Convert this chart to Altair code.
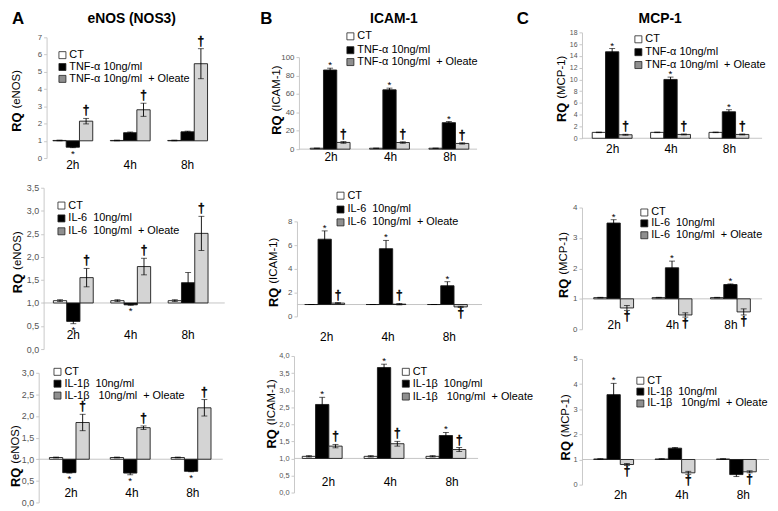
import altair as alt
import pandas as pd

FONT = "Liberation Sans"
TIMES = ["2h", "4h", "8h"]
SERIES = ["CT", "TRT", "OLE"]
BAR_COLORS = ["#ffffff", "#000000", "#d4d4d4"]
LEGEND_COLORS = ["#ffffff", "#000000", "#8f8f8f"]

letters = ["A", "B", "C"]
gene_titles = ["eNOS (NOS3)", "ICAM-1", "MCP-1"]
gene_ylabels = ["(eNOS)", "(ICAM-1)", "(MCP-1)"]
legend_tnf = ["CT", "TNF-α 10ng/ml", "TNF-α 10ng/ml  + Oleate"]
legend_il6 = ["CT", "IL-6  10ng/ml", "IL-6  10ng/ml  + Oleate"]
legend_il1 = ["CT", "IL-1β  10ng/ml", "IL-1β   10ng/ml  + Oleate"]
daggers = ["†", "†", "†"]

# ---- eNOS / TNF-a
enos_tnf_ct = [1.02, 1.02, 1.02]
enos_tnf_ct_err = [0.02, 0.02, 0.02]
enos_tnf_trt = [0.63, 1.47, 1.52]
enos_tnf_trt_err = [0.03, 0.04, 0.04]
enos_tnf_ole = [2.14, 2.80, 5.47]
enos_tnf_ole_err = [0.16, 0.38, 0.87]
enos_tnf_stars = ["*", "", ""]
enos_tnf_ticks = [0, 1, 2, 3, 4, 5, 6, 7]

# ---- ICAM-1 / TNF-a
icam_tnf_ct = [1.0, 1.0, 1.0]
icam_tnf_ct_err = [0.1, 0.1, 0.1]
icam_tnf_trt = [86.0, 64.5, 28.8]
icam_tnf_trt_err = [2.0, 1.8, 1.2]
icam_tnf_ole = [7.3, 7.2, 6.2]
icam_tnf_ole_err = [0.9, 0.8, 0.7]
icam_tnf_stars = ["*", "*", "*"]
icam_tnf_ticks = [0, 20, 40, 60, 80, 100]

# ---- MCP-1 / TNF-a
mcp_tnf_ct = [1.0, 1.0, 1.0]
mcp_tnf_ct_err = [0.05, 0.05, 0.05]
mcp_tnf_trt = [14.7, 10.0, 4.5]
mcp_tnf_trt_err = [0.55, 0.4, 0.35]
mcp_tnf_ole = [0.6, 0.65, 0.65]
mcp_tnf_ole_err = [0.08, 0.08, 0.08]
mcp_tnf_stars = ["*", "*", "*"]
mcp_tnf_ticks = [0, 2, 4, 6, 8, 10, 12, 14, 16, 18]

# ---- eNOS / IL-6
enos_il6_ct = [1.05, 1.05, 1.05]
enos_il6_ct_err = [0.02, 0.02, 0.02]
enos_il6_trt = [0.60, 0.96, 1.44]
enos_il6_trt_err = [0.05, 0.01, 0.22]
enos_il6_ole = [1.55, 1.79, 2.51]
enos_il6_ole_err = [0.20, 0.18, 0.37]
enos_il6_stars = ["*", "*", ""]
enos_il6_ticks = [0, 0.5, 1, 1.5, 2, 2.5, 3, 3.5]

# ---- ICAM-1 / IL-6
icam_il6_ct = [1.0, 1.0, 1.0]
icam_il6_ct_err = [0.0, 0.0, 0.0]
icam_il6_trt = [6.5, 5.7, 2.58]
icam_il6_trt_err = [0.7, 0.7, 0.34]
icam_il6_ole = [1.12, 1.03, 0.80]
icam_il6_ole_err = [0.04, 0.06, 0.05]
icam_il6_stars = ["*", "*", "*"]
icam_il6_ticks = [0, 2, 4, 6, 8]

# ---- MCP-1 / IL-6
mcp_il6_ct = [1.04, 1.04, 1.04]
mcp_il6_ct_err = [0.01, 0.01, 0.01]
mcp_il6_trt = [3.49, 2.02, 1.47]
mcp_il6_trt_err = [0.11, 0.22, 0.02]
mcp_il6_ole = [0.70, 0.47, 0.57]
mcp_il6_ole_err = [0.08, 0.07, 0.10]
mcp_il6_stars = ["*", "*", "*"]
mcp_il6_ticks = [0, 1, 2, 3, 4]

# ---- eNOS / IL-1b
enos_il1_ct = [1.04, 1.04, 1.04]
enos_il1_ct_err = [0.01, 0.01, 0.01]
enos_il1_trt = [0.69, 0.68, 0.72]
enos_il1_trt_err = [0.01, 0.04, 0.01]
enos_il1_ole = [1.85, 1.73, 2.19]
enos_il1_ole_err = [0.19, 0.04, 0.19]
enos_il1_stars = ["*", "*", "*"]
enos_il1_ticks = [0, 0.5, 1, 1.5, 2, 2.5, 3]

# ---- ICAM-1 / IL-1b
icam_il1_ct = [1.06, 1.06, 1.06]
icam_il1_ct_err = [0.02, 0.02, 0.02]
icam_il1_trt = [2.58, 3.66, 1.67]
icam_il1_trt_err = [0.21, 0.10, 0.09]
icam_il1_ole = [1.36, 1.43, 1.26]
icam_il1_ole_err = [0.05, 0.07, 0.06]
icam_il1_stars = ["*", "*", "*"]
icam_il1_ticks = [0, 0.5, 1, 1.5, 2, 2.5, 3, 3.5, 4]

# ---- MCP-1 / IL-1b
mcp_il1_ct = [1.02, 1.02, 1.02]
mcp_il1_ct_err = [0.01, 0.01, 0.01]
mcp_il1_trt = [3.58, 1.45, 0.40]
mcp_il1_trt_err = [0.45, 0.03, 0.08]
mcp_il1_ole = [0.80, 0.47, 0.51]
mcp_il1_ole_err = [0.04, 0.06, 0.04]
mcp_il1_stars = ["*", "", ""]
mcp_il1_ticks = [0, 1, 2, 3, 4, 5]


def txt(s, **kw):
    return alt.Chart(pd.DataFrame({"t": [s]})).mark_text(font=FONT, color="black", **kw)


def panel(ct, ct_e, trt, trt_e, ole, ole_e, stars, base, domain, ticks, dec,
          legend, col, g, top=False):
    rows = []
    for i, t in enumerate(TIMES):
        for s, v, e, m in (("CT", ct[i], ct_e[i], ""),
                           ("TRT", trt[i], trt_e[i], stars[i]),
                           ("OLE", ole[i], ole_e[i], daggers[i])):
            up = v >= base
            rows.append(dict(time=t, series=s, value=v, base=base, lo=v - e, hi=v + e,
                             mark=m, above=up, ay=(v + e) if up else (v - e),
                             kind="star" if m == "*" else "dag"))
    df = pd.DataFrame(rows)

    xs = alt.Scale(domain=TIMES, range=g["xr"], paddingInner=0, paddingOuter=0)
    xo = alt.Scale(domain=SERIES, paddingInner=0, paddingOuter=0.66)
    ys = alt.Scale(domain=domain, range=g["yr"], nice=False, zero=False)
    fmt = ("replace(format(datum.value, '.1f'), '.', ',')" if dec
           else "format(datum.value, 'd')")
    ya = alt.Axis(values=ticks, labelExpr=fmt, title=None, grid=False,
                  domainColor="#c8c8c8", tickColor="#c8c8c8", tickSize=3,
                  labelFontSize=g["tfs"], labelColor="#555555", labelFont=FONT,
                  offset=-g["axis"], labelPadding=2)
    X = alt.X("time:N", scale=xs, axis=None)
    XO = alt.XOffset("series:N", scale=xo)

    layers = []
    if g.get("bl"):
        layers.append(
            alt.Chart(pd.DataFrame({"b": [base]})).mark_rule(color="#c4c4c4", strokeWidth=1)
            .encode(y=alt.Y("b:Q", scale=ys, axis=ya),
                    x=alt.value(g["bl"][0]), x2=alt.value(g["bl"][1])))
    layers.append(
        alt.Chart(df).mark_bar(stroke="#1a1a1a", strokeWidth=0.9)
        .encode(x=X, xOffset=XO, y=alt.Y("value:Q", scale=ys, axis=ya), y2="base:Q",
                fill=alt.Fill("series:N", scale=alt.Scale(domain=SERIES, range=BAR_COLORS),
                              legend=None)))
    layers.append(
        alt.Chart(df).mark_rule(color="black", strokeWidth=0.9)
        .encode(x=X, xOffset=XO, y=alt.Y("lo:Q", scale=ys, axis=ya), y2="hi:Q"))
    for f in ("hi", "lo"):
        layers.append(
            alt.Chart(df).mark_tick(color="black", size=6, thickness=0.9)
            .encode(x=X, xOffset=XO, y=alt.Y(f + ":Q", scale=ys, axis=ya)))
    styles = {
        ("star", True): dict(fontSize=10, baseline="alphabetic", dy=0),
        ("star", False): dict(fontSize=10, baseline="top", dy=1),
        ("dag", True): dict(fontSize=12, baseline="bottom", dy=-1, stroke="black",
                            strokeWidth=0.5),
        ("dag", False): dict(fontSize=12, baseline="top", dy=1, stroke="black",
                             strokeWidth=0.5),
    }
    for (kind, up), st in styles.items():
        sub = df[(df["mark"] != "") & (df["kind"] == kind) & (df["above"] == up)]
        if len(sub) == 0:
            continue
        layers.append(
            alt.Chart(sub).mark_text(font=FONT, fill="black", **st)
            .encode(x=X, xOffset=XO, y=alt.Y("ay:Q", scale=ys, axis=ya), text="mark:N"))
    # category labels
    layers.append(
        alt.Chart(pd.DataFrame({"time": TIMES})).mark_text(font=FONT, fontSize=12,
                                                            baseline="middle", color="black",
                                                            dx=g.get("cdx", 0))
        .encode(x=X, y=alt.value(g["cy"]), text="time:N"))
    # legend
    sqx, lrows = g["lg"]
    for i, lab in enumerate(legend):
        layers.append(
            alt.Chart(pd.DataFrame({"l": [lab]})).mark_square(
                size=50, fill=LEGEND_COLORS[i], stroke="#222222", strokeWidth=0.8, opacity=1)
            .encode(x=alt.value(sqx), y=alt.value(lrows[i])))
        layers.append(
            txt(lab.replace("  ", "\u00a0\u00a0"), align="left", baseline="middle", fontSize=11)
            .encode(x=alt.value(sqx + 7), y=alt.value(lrows[i]), text="t:N"))
    # y title
    yx, yj = g["yt"]
    layers.append(txt("RQ", angle=270, align="right", baseline="middle", fontSize=13,
                      fontWeight="bold").encode(x=alt.value(yx), y=alt.value(yj + 2), text="t:N"))
    layers.append(txt(gene_ylabels[col], angle=270, align="left", baseline="middle",
                      fontSize=11.5).encode(x=alt.value(yx), y=alt.value(yj - 2), text="t:N"))
    if top:
        lx, tx = g["head"]
        layers.append(txt(letters[col], align="left", baseline="top", fontSize=17,
                          fontWeight="bold").encode(x=alt.value(lx), y=alt.value(0), text="t:N"))
        layers.append(txt(gene_titles[col], align="center", baseline="top", fontSize=14,
                          fontWeight="bold").encode(x=alt.value(tx), y=alt.value(1), text="t:N"))
    return alt.layer(*layers).properties(width=g["w"], height=g["h"])


G = {
    "A1": dict(w=252, h=162, axis=39, xr=[36.5, 210.5], yr=[148, 26], cy=155, bl=None,
               lg=(55, [44, 56, 68]), yt=(9, 100), tfs=8, head=(4, 125)),
    "B1": dict(w=260, h=162, axis=42, xr=[44.5, 224.5], yr=[139, 46], cy=147, bl=(42, 222),
               lg=(94, [25, 39, 51]), yt=(20, 103), tfs=8, head=(3, 138)),
    "C1": dict(w=250, h=162, axis=68, xr=[69.5, 246.5], yr=[128, 21], cy=139, bl=(68, 250),
               lg=(125, [28, 41, 54]), yt=(48, 90), tfs=7, head=(2, 147)),
    "A2": dict(w=252, h=170, axis=36, xr=[37, 211], yr=[179, 16], cy=165, bl=(36, 219),
               lg=(54, [34, 47, 60]), yt=(10, 101), tfs=9),
    "B2": dict(w=260, h=170, axis=40, xr=[39, 225], yr=[146, 50], cy=167, bl=(40, 227),
               lg=(84, [24, 38, 51]), yt=(17, 115), tfs=8),
    "C2": dict(w=250, h=170, axis=68, xr=[71, 248], yr=[159, 36], cy=155, bl=(68, 250),
               lg=(131, [41, 52, 64]), yt=(50, 106), tfs=8),
    "A3": dict(w=252, h=163, axis=31, xr=[33, 217.5], yr=[164, 33], cy=154, bl=(31, 217),
               lg=(50, [32, 44, 56]), yt=(8, 127), tfs=9),
    "B3": dict(w=260, h=163, axis=37, xr=[36.5, 224], yr=[154, 16], cy=143, bl=(37, 223),
               lg=(150, [32, 44, 57]), yt=(15, 88), tfs=7.5, cdx=4),
    "C3": dict(w=250, h=163, axis=68, xr=[71, 257], yr=[146, 19], cy=157, bl=(68, 257),
               lg=(127, [41, 52, 64]), yt=(52, 100), tfs=7.5, cdx=5),
}

pA1 = panel(enos_tnf_ct, enos_tnf_ct_err, enos_tnf_trt, enos_tnf_trt_err, enos_tnf_ole,
            enos_tnf_ole_err, enos_tnf_stars, 1, [0, 7], enos_tnf_ticks, False, legend_tnf, 0,
            G["A1"], top=True)
pB1 = panel(icam_tnf_ct, icam_tnf_ct_err, icam_tnf_trt, icam_tnf_trt_err, icam_tnf_ole,
            icam_tnf_ole_err, icam_tnf_stars, 0, [0, 100], icam_tnf_ticks, False, legend_tnf, 1,
            G["B1"], top=True)
pC1 = panel(mcp_tnf_ct, mcp_tnf_ct_err, mcp_tnf_trt, mcp_tnf_trt_err, mcp_tnf_ole,
            mcp_tnf_ole_err, mcp_tnf_stars, 0, [0, 18], mcp_tnf_ticks, False, legend_tnf, 2,
            G["C1"], top=True)
pA2 = panel(enos_il6_ct, enos_il6_ct_err, enos_il6_trt, enos_il6_trt_err, enos_il6_ole,
            enos_il6_ole_err, enos_il6_stars, 1, [0, 3.5], enos_il6_ticks, True, legend_il6, 0,
            G["A2"])
pB2 = panel(icam_il6_ct, icam_il6_ct_err, icam_il6_trt, icam_il6_trt_err, icam_il6_ole,
            icam_il6_ole_err, icam_il6_stars, 1, [0, 8], icam_il6_ticks, False, legend_il6, 1,
            G["B2"])
pC2 = panel(mcp_il6_ct, mcp_il6_ct_err, mcp_il6_trt, mcp_il6_trt_err, mcp_il6_ole,
            mcp_il6_ole_err, mcp_il6_stars, 1, [0, 4], mcp_il6_ticks, False, legend_il6, 2,
            G["C2"])
pA3 = panel(enos_il1_ct, enos_il1_ct_err, enos_il1_trt, enos_il1_trt_err, enos_il1_ole,
            enos_il1_ole_err, enos_il1_stars, 1, [0, 3], enos_il1_ticks, True, legend_il1, 0,
            G["A3"])
pB3 = panel(icam_il1_ct, icam_il1_ct_err, icam_il1_trt, icam_il1_trt_err, icam_il1_ole,
            icam_il1_ole_err, icam_il1_stars, 1, [0, 4], icam_il1_ticks, True, legend_il1, 1,
            G["B3"])
pC3 = panel(mcp_il1_ct, mcp_il1_ct_err, mcp_il1_trt, mcp_il1_trt_err, mcp_il1_ole,
            mcp_il1_ole_err, mcp_il1_stars, 1, [0, 5], mcp_il1_ticks, False, legend_il1, 2,
            G["C3"])

chart = (alt.concat(pA1, pB1, pC1, pA2, pB2, pC2, pA3, pB3, pC3,
                    columns=3, spacing=0, bounds="flush", align="each")
         .properties(padding=0, background="white")
         .configure_view(strokeWidth=0))

chart.save("out.html", embed_options={"renderer": "svg", "actions": False})
